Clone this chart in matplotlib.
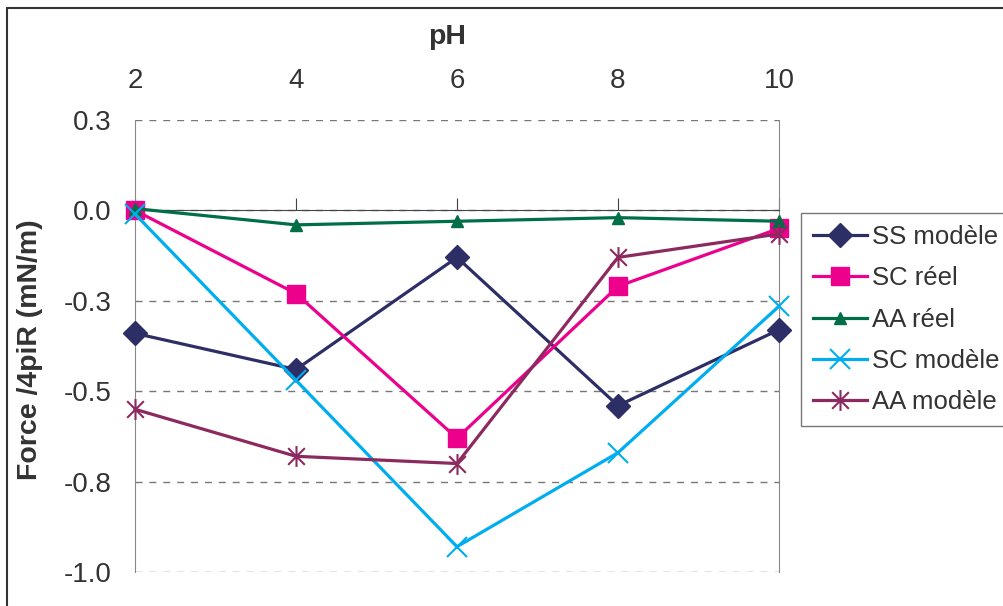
import matplotlib
matplotlib.use('Agg')
import matplotlib.pyplot as plt
from matplotlib.path import Path
from matplotlib.patches import Rectangle

plt.rcParams['font.family'] = ['Liberation Sans', 'DejaVu Sans']

ph = [2, 4, 6, 8, 10]
series_names = ['SS modèle', 'SC réel', 'AA réel', 'SC modèle', 'AA modèle']
ss_modele = [-0.34, -0.44, -0.13, -0.54, -0.33]
sc_reel = [0.0, -0.23, -0.63, -0.21, -0.05]
aa_reel = [0.005, -0.04, -0.03, -0.02, -0.03]
sc_modele = [-0.01, -0.47, -0.93, -0.67, -0.265]
aa_modele = [-0.55, -0.68, -0.70, -0.13, -0.065]

yticks = [-1.0, -0.75, -0.5, -0.25, 0.0, 0.25]
ytick_labels = ['-1.0', '-0.8', '-0.5', '-0.3', '0.0', '0.3']

# excel style asterisk: vertical bar + X
asterisk = Path([(0, -1), (0, 1), (-0.8, -0.8), (0.8, 0.8), (-0.8, 0.8), (0.8, -0.8)],
                [Path.MOVETO, Path.LINETO] * 3)

styles = [
    dict(color='#2E2E66', marker='D', ms=12),
    dict(color='#EC008C', marker='s', ms=13.5),
    dict(color='#006F47', marker='^', ms=9),
    dict(color='#00AEEF', marker='x', ms=14, mew=1.5),
    dict(color='#8C2A60', marker=asterisk, ms=15, mew=1.5),
]

fig = plt.figure(figsize=(10.04, 6.06), dpi=100)
ax = fig.add_axes([135 / 1004, 1 - 572 / 606, (779 - 135) / 1004, (572 - 120) / 606])

for name, vals, st in zip(series_names, [ss_modele, sc_reel, aa_reel, sc_modele, aa_modele], styles):
    ax.plot(ph, vals, lw=2.3, label=name, zorder=3, clip_on=False, **st)

ax.set_xlim(2, 10)
ax.set_ylim(-1.0, 0.25)
ax.set_xticks(ph)
ax.set_yticks(yticks)
ax.set_yticklabels(ytick_labels)

ax.yaxis.grid(True, linestyle=(0, (5, 5)), color='#777777', lw=1)
ax.set_axisbelow(True)

ax.spines['top'].set_position(('data', 0))
ax.spines['top'].set_color('#444444')
ax.spines['left'].set_color('#888888')
ax.spines['right'].set_color('#888888')
ax.spines['bottom'].set_visible(False)
ax.xaxis.set_ticks_position('top')
ax.tick_params(axis='x', direction='out', length=9, color='#444444', pad=75,
               labelsize=20, labelcolor='#333333')
ax.tick_params(axis='y', length=0, pad=17, labelsize=20, labelcolor='#333333')

ax.set_ylabel('Force /4piR (mN/m)', fontsize=20.5, fontweight='bold', color='#333333')
ax.yaxis.set_label_coords(30 / 1004, 1 - 350 / 606, transform=fig.transFigure)
ax.yaxis.label.set_va('center')
fig.text(447 / 1004, 1 - 37 / 606, 'pH', fontsize=20.5, fontweight='bold', color='#333333',
         ha='center', va='center')

leg = ax.legend(loc='upper left', bbox_to_anchor=(801 / 1004, 1 - 213 / 606),
                bbox_transform=fig.transFigure, borderaxespad=0, fancybox=False,
                edgecolor='#555555', fontsize=18.5, handlelength=2.1, labelspacing=0.68,
                handletextpad=0.2, borderpad=0.45)
leg.get_frame().set_linewidth(1)
for t in leg.get_texts():
    t.set_color('#333333')

fig.patches.append(Rectangle((7 / 1004, -0.1), 1.2, 1 - 8 / 606 + 0.1, transform=fig.transFigure,
                             fill=False, edgecolor='#333333', lw=1.5))

fig.savefig('out.png', dpi=100)
